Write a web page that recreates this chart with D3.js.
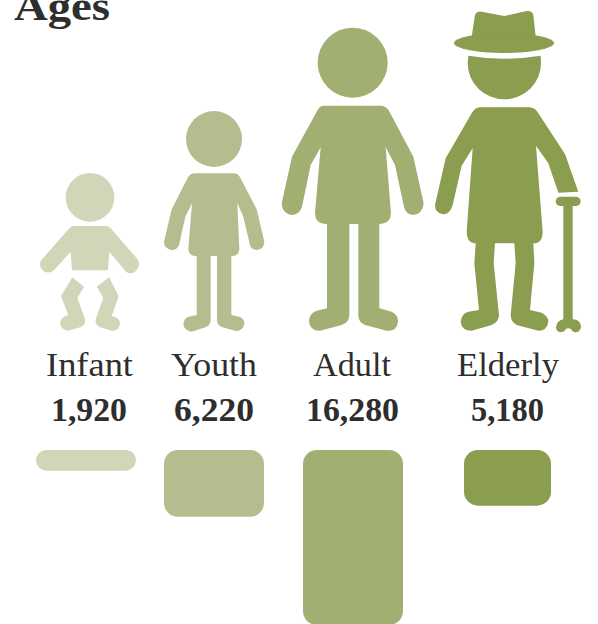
<!DOCTYPE html>
<html>
<head>
<meta charset="utf-8">
<script src="https://cdn.jsdelivr.net/npm/d3@7"></script>
<style>
  html, body { margin: 0; padding: 0; background: #fff; overflow: hidden; }
  svg { display: block; }
  text { font-family: "Liberation Serif", serif; fill: #2e2e2e; text-anchor: middle; }
</style>
</head>
<body>
<script>
// Population by age group
const title = "Ages";
const categories = ["Infant", "Youth", "Adult", "Elderly"];
const values = [1920, 6220, 16280, 5180];
const colors = ["#d0d6b8", "#b3bd8d", "#a2af72", "#8b9d4e"];

const width = 598, height = 624;
const barTop = 450;
const barCentres = [86, 214, 353, 507.5];
const barWidths = [100, 100, 100, 87];
const labelCentres = [89.5, 214, 352, 508];
const labelWidths = [87, 86, 78, 102];
const valueCentres = [89, 214, 352.5, 507.5];
const valueWidths = [76, 80, 93, 73];

// Pictogram outlines, authored on a 3-units-per-pixel grid
const iconShapes = {
  Infant: {
    origin: [0, 160],
    circles: [[270, 112, 73]],
    paths: [
      "M222 198H318Q326 198 332 205L413 298Q424 318 405 335Q388 345 376 333L328 275L324 331H216L212 275L162 331Q148 343 130 333Q112 316 126 298L208 205Q214 198 222 198Z",
      "M217 352L252 380L232 413L255 478Q258 494 243 501L205 512Q182 510 180 490Q182 470 205 465L183 408Z",
      "M327 352L290 380L310 413L287 478Q284 494 299 501L338 513Q360 510 360 490Q358 472 335 468L356 408Z"
    ]
  },
  Youth: {
    origin: [0, 160],
    circles: [[642, -63, 84]],
    paths: [
      "M584 40H702Q714 40 720 52L770 148L793 245Q792 268 770 270Q752 268 750 255L730 170L712 130L718 268Q716 288 698 288H694V465L720 471Q734 478 733 492Q728 514 708 513L665 501Q651 495 651 480V288H632V480Q632 495 618 501L575 515Q552 512 550 492Q552 474 566 470L590 465V288H584Q566 286 565 268L576 130L556 170L537 255Q532 270 515 270Q492 266 492 245L515 148L564 52Q572 40 584 40Z"
    ]
  },
  Adult: {
    origin: [270, 0],
    circles: [[248, 188, 105]],
    paths: [
      "M160 317H335Q352 320 360 338L430 470L461 610Q458 642 430 645Q406 642 402 620L375 495L347 442L363 640Q363 670 330 672H328V925L365 935Q385 945 384 965Q380 995 350 992L285 975Q265 968 265 945V672H238V945Q238 968 215 975L150 992Q118 992 117 962Q118 940 140 932L171 925V672H165Q135 670 135 640L152 442L122 495L96 620Q90 642 65 645Q36 640 35 610L66 470L140 335Q148 317 160 317Z"
    ]
  },
  Elderly: {
    origin: [270, 0],
    circles: [],
    paths: [
      "M615 45Q620 33 635 35L703 48L770 33Q787 32 790 45L797 110H605Z",
      "M552 129A150 30 0 0 1 852 129A150 30 0 0 1 552 129Z",
      "M595 167Q700 185 812 167L813 190A110 108 0 0 1 593 190Z",
      "M630 322H780Q795 325 802 335L885 462L925 575L865 578L835 490L798 437L818 695Q818 730 790 730L793 790L780 930L815 938Q836 950 835 965Q830 993 805 992L740 975Q722 965 722 945L737 790L733 730H675L671 790L687 945Q687 965 665 975L605 992Q575 992 572 965Q575 940 595 935L627 930L613 790L617 730H612Q590 725 590 695L608 445L575 497L548 615Q540 643 520 643Q495 640 495 615L527 475L605 340Q615 322 630 322Z",
      "M871 590H918Q932 592 932 604Q932 616 918 618H908V958Q932 958 933 982Q930 998 915 997Q905 995 903 987Q895 982 887 987Q885 995 873 997Q858 996 858 982Q860 962 880 958V618H871Q857 616 857 604Q857 592 871 590Z"
    ]
  }
};

const heightScale = d3.scaleLinear().domain([0, d3.max(values)]).range([0, 175]);

const svg = d3.select("body").append("svg")
  .attr("width", width)
  .attr("height", height)
  .attr("viewBox", [0, 0, width, height]);

svg.append("text")
  .attr("x", 62)
  .attr("y", 20)
  .attr("textLength", 96)
  .attr("lengthAdjust", "spacingAndGlyphs")
  .attr("font-size", 41)
  .attr("font-weight", 700)
  .text(title);

const rows = categories.map((name, i) => ({ name, value: values[i], color: colors[i], i }));

// Pictograms
const icons = svg.append("g").selectAll("g").data(rows).join("g")
  .attr("fill", d => d.color)
  .attr("transform", d => {
    const [ox, oy] = iconShapes[d.name].origin;
    return `translate(${ox},${oy}) scale(${1 / 3})`;
  });

icons.selectAll("circle").data(d => iconShapes[d.name].circles).join("circle")
  .attr("cx", c => c[0]).attr("cy", c => c[1]).attr("r", c => c[2]);

icons.selectAll("path").data(d => iconShapes[d.name].paths).join("path")
  .attr("d", p => p);

// Category names
svg.append("g").selectAll("text").data(rows).join("text")
  .attr("x", d => labelCentres[d.i])
  .attr("y", 376)
  .attr("textLength", d => labelWidths[d.i])
  .attr("lengthAdjust", "spacingAndGlyphs")
  .attr("font-size", 33)
  .text(d => d.name);

// Values
svg.append("g").selectAll("text").data(rows).join("text")
  .attr("x", d => valueCentres[d.i])
  .attr("y", 421)
  .attr("textLength", d => valueWidths[d.i])
  .attr("lengthAdjust", "spacingAndGlyphs")
  .attr("font-size", 33)
  .attr("font-weight", 700)
  .text(d => d3.format(",")(d.value));

// Bars hanging below the labels
svg.append("g").selectAll("rect").data(rows).join("rect")
  .attr("x", d => barCentres[d.i] - barWidths[d.i] / 2)
  .attr("y", barTop)
  .attr("width", d => barWidths[d.i])
  .attr("height", d => heightScale(d.value))
  .attr("rx", d => Math.min(heightScale(d.value) / 2, 14))
  .attr("fill", d => d.color);
</script>
</body>
</html>
